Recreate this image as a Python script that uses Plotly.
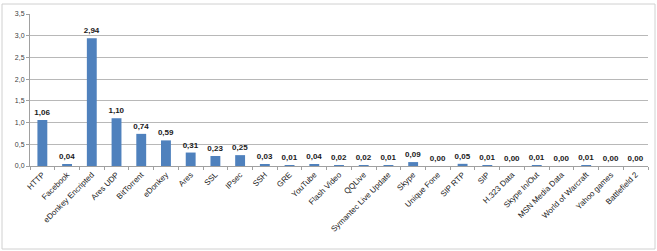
import plotly.graph_objects as go

categories = ["HTTP", "Facebook", "eDonkey Encripted", "Ares UDP", "BitTorrent", "eDonkey",
              "Ares", "SSL", "IPsec", "SSH", "GRE", "YouTube", "Flash Video", "QQLive",
              "Symantec Live Update", "Skype", "Unique Fone", "SIP RTP", "SIP", "H.323 Data",
              "Skype In/Out", "MSN Media Data", "World of Warcraft", "Yahoo games", "Battlefield 2"]
values = [1.06, 0.04, 2.94, 1.10, 0.74, 0.59, 0.31, 0.23, 0.25, 0.03, 0.01, 0.04, 0.02, 0.02,
          0.01, 0.09, 0.00, 0.05, 0.01, 0.00, 0.01, 0.00, 0.01, 0.00, 0.00]
y_ticks = [0.0, 0.5, 1.0, 1.5, 2.0, 2.5, 3.0, 3.5]

label_font = dict(family="Liberation Sans", size=8, color="#1a1a1a", weight="bold")

fig = go.Figure(go.Bar(
    x=categories, y=values,
    marker=dict(color="#4F81BD", line=dict(width=0)),
    text=values, texttemplate="%{y:.2f}", textposition="outside",
    textfont=label_font, outsidetextfont=label_font,
    cliponaxis=False,
))

fig.update_layout(
    width=657, height=251,
    margin=dict(l=30, r=9, t=14, b=85),
    paper_bgcolor="white", plot_bgcolor="white",
    separators=",.",
    bargap=0.6,
    showlegend=False,
    uniformtext=dict(minsize=8, mode="show"),
    font=dict(family="Liberation Sans", size=7, color="#404040"),
    shapes=[dict(type="rect", xref="paper", yref="paper",
                 x0=(2 - 30) / 618, x1=(655 - 30) / 618,
                 y0=(166 - 249) / 152, y1=(166 - 4) / 152,
                 line=dict(color="#D0D0D0", width=1), fillcolor="rgba(0,0,0,0)", layer="below")],
)
fig.update_xaxes(
    tickangle=-45, tickfont=dict(size=8, color="#222222", family="Liberation Sans"),
    showline=True, linecolor="#A0A0A0", linewidth=1,
    ticks="outside", tickson="boundaries", ticklen=3, tickcolor="#A0A0A0",
    showgrid=False,
)
fig.update_yaxes(
    range=[0, 3.5], tickvals=y_ticks, tickformat=".1f",
    showgrid=True, gridcolor="#B8B8B8", gridwidth=1,
    showline=True, linecolor="#A0A0A0", linewidth=1,
    ticks="outside", ticklen=3, tickcolor="#A0A0A0",
    tickfont=dict(size=7, color="#404040"),
    zeroline=False,
)

fig.write_html("out.html")
